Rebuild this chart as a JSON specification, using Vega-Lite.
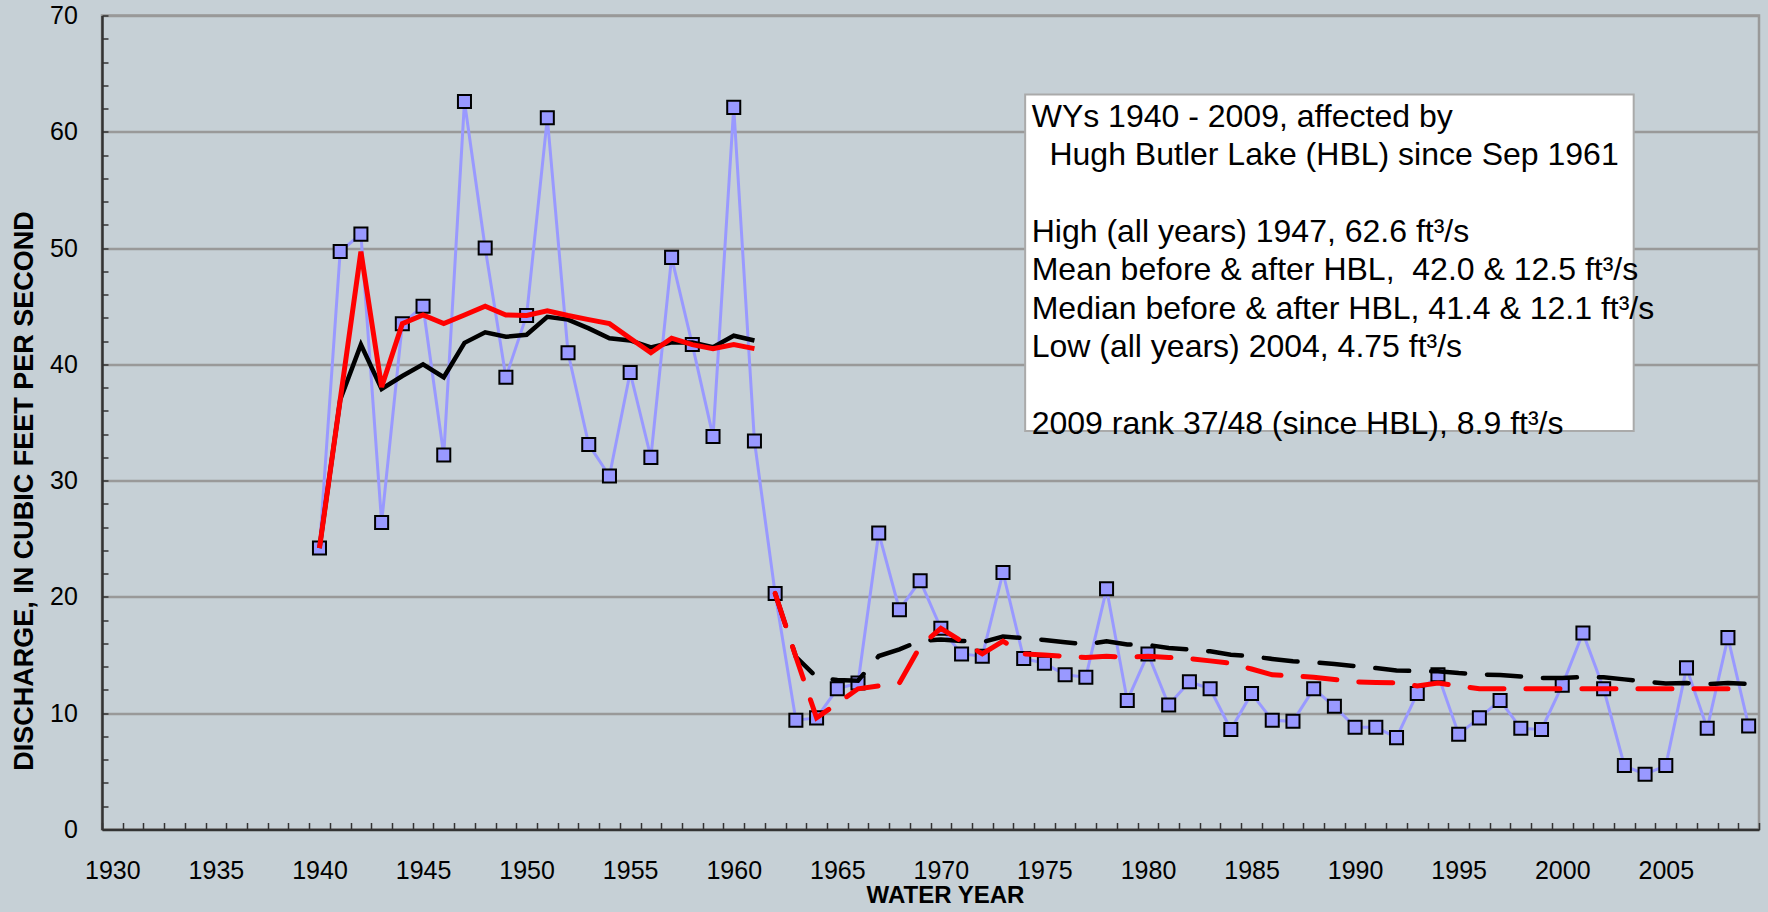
{
  "$schema": "https://vega.github.io/schema/vega-lite/v6.json",
  "width": 1657,
  "height": 814,
  "autosize": {"type": "none"},
  "padding": {"left": 102, "top": 15.5, "right": 9, "bottom": 82.5},
  "background": "#C6D0D6",
  "config": {
    "font": "Liberation Sans",
    "view": {"stroke": "#999999", "strokeWidth": 2.5, "fill": "#C6D0D6"}
  },
  "encoding": {
    "x": {
      "field": "year",
      "type": "quantitative",
      "scale": {"domain": [1929.5, 2009.5], "nice": false, "zero": false},
      "axis": {
        "title": "WATER YEAR",
        "values": [1929.5, 1930, 1930.5, 1931.5, 1932.5, 1933.5, 1934.5, 1935, 1935.5, 1936.5, 1937.5, 1938.5, 1939.5, 1940, 1940.5, 1941.5, 1942.5, 1943.5, 1944.5, 1945, 1945.5, 1946.5, 1947.5, 1948.5, 1949.5, 1950, 1950.5, 1951.5, 1952.5, 1953.5, 1954.5, 1955, 1955.5, 1956.5, 1957.5, 1958.5, 1959.5, 1960, 1960.5, 1961.5, 1962.5, 1963.5, 1964.5, 1965, 1965.5, 1966.5, 1967.5, 1968.5, 1969.5, 1970, 1970.5, 1971.5, 1972.5, 1973.5, 1974.5, 1975, 1975.5, 1976.5, 1977.5, 1978.5, 1979.5, 1980, 1980.5, 1981.5, 1982.5, 1983.5, 1984.5, 1985, 1985.5, 1986.5, 1987.5, 1988.5, 1989.5, 1990, 1990.5, 1991.5, 1992.5, 1993.5, 1994.5, 1995, 1995.5, 1996.5, 1997.5, 1998.5, 1999.5, 2000, 2000.5, 2001.5, 2002.5, 2003.5, 2004.5, 2005, 2005.5, 2006.5, 2007.5, 2008.5, 2009.5],
        "tickOpacity": {"condition": {"test": "datum.value % 1 != 0", "value": 1}, "value": 0},
        "labelExpr": "datum.value % 5 == 0 ? '' + datum.value : ''",
        "labelOverlap": false,
        "labelFlush": false,
        "labelBound": false,
        "tickSize": -7,
        "tickWidth": 1.5,
        "tickColor": "#333333",
        "domainColor": "#333333",
        "domainWidth": 2.5,
        "grid": false,
        "labelFont": "Liberation Sans",
        "labelFontSize": 25,
        "labelColor": "#000000",
        "labelPadding": 36,
        "titleFont": "Liberation Sans",
        "titleFontSize": 24,
        "titleFontWeight": "bold",
        "titleColor": "#000000",
        "titleX": 843,
        "titleY": 66,
        "titleAlign": "center",
        "titleBaseline": "middle"
      }
    },
    "y": {
      "field": "q",
      "type": "quantitative",
      "scale": {"domain": [0, 70], "nice": false, "zero": true},
      "axis": {
        "title": "DISCHARGE, IN CUBIC FEET PER SECOND",
        "values": [0, 2, 4, 6, 8, 10, 12, 14, 16, 18, 20, 22, 24, 26, 28, 30, 32, 34, 36, 38, 40, 42, 44, 46, 48, 50, 52, 54, 56, 58, 60, 62, 64, 66, 68, 70],
        "labelExpr": "datum.value % 10 == 0 ? '' + datum.value : ''",
        "labelOverlap": false,
        "labelFlush": false,
        "labelBound": false,
        "grid": true,
        "gridColor": "#999999",
        "gridWidth": 2.5,
        "gridOpacity": {"condition": {"test": "datum.value % 10 == 0 && datum.value > 0", "value": 1}, "value": 0},
        "tickSize": -6,
        "tickWidth": 1.5,
        "tickColor": "#333333",
        "domainColor": "#333333",
        "domainWidth": 2.5,
        "labelFont": "Liberation Sans",
        "labelFontSize": 25,
        "labelColor": "#000000",
        "labelPadding": 30.6,
        "titleFont": "Liberation Sans",
        "titleFontSize": 27,
        "titleFontWeight": "bold",
        "titleColor": "#000000",
        "titleAngle": -90,
        "titleX": -78,
        "titleY": 475,
        "titleAlign": "center",
        "titleBaseline": "middle"
      }
    }
  },
  "layer": [
    {"data": {"name": "flow"}, "mark": {"type": "line", "color": "#9999FF", "strokeWidth": 3}},
    {"data": {"name": "flow"}, "mark": {"type": "point", "shape": "square", "filled": true, "fill": "#9999FF", "stroke": "#000000", "strokeWidth": 2, "size": 170, "opacity": 1}},
    {
      "data": {"name": "flow"},
      "transform": [{"filter": "datum.period == 'before'"}],
      "mark": {"type": "line", "color": "#000000", "strokeWidth": 4.5},
      "encoding": {"y": {"field": "mean", "type": "quantitative"}}
    },
    {
      "data": {"name": "flow"},
      "transform": [{"filter": "datum.period == 'after'"}],
      "mark": {"type": "line", "color": "#000000", "strokeWidth": 4.5, "strokeDash": [34, 22], "strokeCap": "round"},
      "encoding": {"y": {"field": "mean", "type": "quantitative"}}
    },
    {
      "data": {"name": "flow"},
      "transform": [{"filter": "datum.period == 'before'"}],
      "mark": {"type": "line", "color": "#FF0000", "strokeWidth": 5},
      "encoding": {"y": {"field": "median", "type": "quantitative"}}
    },
    {
      "data": {"name": "flow"},
      "transform": [{"filter": "datum.period == 'after'"}],
      "mark": {"type": "line", "color": "#FF0000", "strokeWidth": 5, "strokeDash": [34, 22], "strokeCap": "round"},
      "encoding": {"y": {"field": "median", "type": "quantitative"}}
    },
    {
      "data": {"values": [{"kind": "box", "year": 1974.07, "q": 63.2, "year2": 2003.45, "q2": 34.27}]},
      "mark": {"type": "rect", "fill": "#FFFFFF", "stroke": "#AAAAAA", "strokeWidth": 2},
      "encoding": {
        "x2": {"field": "year2"},
        "y2": {"field": "q2"}
      }
    },
    {
      "data": {"values": [{"kind": "text", "year": 1974.385, "q": 60.4, "label": "WYs 1940 - 2009, affected by\n\u200b\u00a0\u00a0Hugh Butler Lake (HBL) since Sep 1961\n\u200b\nHigh (all years) 1947, 62.6 ft³/s\nMean before & after HBL, \u00a042.0 & 12.5 ft³/s\nMedian before & after HBL, 41.4 & 12.1 ft³/s\nLow (all years) 2004, 4.75 ft³/s\n\u200b\n2009 rank 37/48 (since HBL), 8.9 ft³/s"}]},
      "mark": {"type": "text", "align": "left", "baseline": "alphabetic", "font": "Liberation Sans", "fontSize": 32, "color": "#000000", "lineBreak": "\n", "lineHeight": 38.3},
      "encoding": {
        "text": {"field": "label", "type": "nominal"}
      }
    }
  ],
  "datasets": {
    "flow": [
      {"year": 1940, "q": 24.2, "mean": 24.2, "median": 24.2, "period": "before"},
      {"year": 1941, "q": 49.7, "mean": 36.95, "median": 36.95, "period": "before"},
      {"year": 1942, "q": 51.2, "mean": 41.7, "median": 49.7, "period": "before"},
      {"year": 1943, "q": 26.4, "mean": 37.88, "median": 38.05, "period": "before"},
      {"year": 1944, "q": 43.5, "mean": 39.0, "median": 43.5, "period": "before"},
      {"year": 1945, "q": 45.0, "mean": 40.0, "median": 44.25, "period": "before"},
      {"year": 1946, "q": 32.2, "mean": 38.89, "median": 43.5, "period": "before"},
      {"year": 1947, "q": 62.6, "mean": 41.85, "median": 44.25, "period": "before"},
      {"year": 1948, "q": 50.0, "mean": 42.76, "median": 45.0, "period": "before"},
      {"year": 1949, "q": 38.9, "mean": 42.37, "median": 44.25, "period": "before"},
      {"year": 1950, "q": 44.2, "mean": 42.54, "median": 44.2, "period": "before"},
      {"year": 1951, "q": 61.2, "mean": 44.09, "median": 44.6, "period": "before"},
      {"year": 1952, "q": 41.0, "mean": 43.85, "median": 44.2, "period": "before"},
      {"year": 1953, "q": 33.1, "mean": 43.09, "median": 43.85, "period": "before"},
      {"year": 1954, "q": 30.4, "mean": 42.24, "median": 43.5, "period": "before"},
      {"year": 1955, "q": 39.3, "mean": 42.06, "median": 42.25, "period": "before"},
      {"year": 1956, "q": 32.0, "mean": 41.46, "median": 41.0, "period": "before"},
      {"year": 1957, "q": 49.2, "mean": 41.89, "median": 42.25, "period": "before"},
      {"year": 1958, "q": 41.7, "mean": 41.88, "median": 41.7, "period": "before"},
      {"year": 1959, "q": 33.8, "mean": 41.48, "median": 41.35, "period": "before"},
      {"year": 1960, "q": 62.1, "mean": 42.46, "median": 41.7, "period": "before"},
      {"year": 1961, "q": 33.4, "mean": 42.05, "median": 41.35, "period": "before"},
      {"year": 1962, "q": 20.3, "mean": 20.3, "median": 20.3, "period": "after"},
      {"year": 1963, "q": 9.4, "mean": 14.85, "median": 14.85, "period": "after"},
      {"year": 1964, "q": 9.6, "mean": 13.1, "median": 9.6, "period": "after"},
      {"year": 1965, "q": 12.1, "mean": 12.85, "median": 10.85, "period": "after"},
      {"year": 1966, "q": 12.6, "mean": 12.8, "median": 12.1, "period": "after"},
      {"year": 1967, "q": 25.5, "mean": 14.92, "median": 12.35, "period": "after"},
      {"year": 1968, "q": 18.9, "mean": 15.49, "median": 12.6, "period": "after"},
      {"year": 1969, "q": 21.4, "mean": 16.23, "median": 15.75, "period": "after"},
      {"year": 1970, "q": 17.3, "mean": 16.34, "median": 17.3, "period": "after"},
      {"year": 1971, "q": 15.1, "mean": 16.22, "median": 16.2, "period": "after"},
      {"year": 1972, "q": 14.9, "mean": 16.1, "median": 15.1, "period": "after"},
      {"year": 1973, "q": 22.1, "mean": 16.6, "median": 16.2, "period": "after"},
      {"year": 1974, "q": 14.7, "mean": 16.45, "median": 15.1, "period": "after"},
      {"year": 1975, "q": 14.3, "mean": 16.3, "median": 15.0, "period": "after"},
      {"year": 1976, "q": 13.3, "mean": 16.1, "median": 14.9, "period": "after"},
      {"year": 1977, "q": 13.1, "mean": 15.91, "median": 14.8, "period": "after"},
      {"year": 1978, "q": 20.7, "mean": 16.19, "median": 14.9, "period": "after"},
      {"year": 1979, "q": 11.1, "mean": 15.91, "median": 14.8, "period": "after"},
      {"year": 1980, "q": 15.1, "mean": 15.87, "median": 14.9, "period": "after"},
      {"year": 1981, "q": 10.7, "mean": 15.61, "median": 14.8, "period": "after"},
      {"year": 1982, "q": 12.7, "mean": 15.47, "median": 14.7, "period": "after"},
      {"year": 1983, "q": 12.1, "mean": 15.32, "median": 14.5, "period": "after"},
      {"year": 1984, "q": 8.6, "mean": 15.03, "median": 14.3, "period": "after"},
      {"year": 1985, "q": 11.7, "mean": 14.89, "median": 13.8, "period": "after"},
      {"year": 1986, "q": 9.4, "mean": 14.67, "median": 13.3, "period": "after"},
      {"year": 1987, "q": 9.3, "mean": 14.46, "median": 13.2, "period": "after"},
      {"year": 1988, "q": 12.1, "mean": 14.37, "median": 13.1, "period": "after"},
      {"year": 1989, "q": 10.6, "mean": 14.24, "median": 12.9, "period": "after"},
      {"year": 1990, "q": 8.8, "mean": 14.05, "median": 12.7, "period": "after"},
      {"year": 1991, "q": 8.8, "mean": 13.88, "median": 12.65, "period": "after"},
      {"year": 1992, "q": 7.9, "mean": 13.68, "median": 12.6, "period": "after"},
      {"year": 1993, "q": 11.7, "mean": 13.62, "median": 12.35, "period": "after"},
      {"year": 1994, "q": 13.3, "mean": 13.61, "median": 12.6, "period": "after"},
      {"year": 1995, "q": 8.2, "mean": 13.45, "median": 12.35, "period": "after"},
      {"year": 1996, "q": 9.6, "mean": 13.34, "median": 12.1, "period": "after"},
      {"year": 1997, "q": 11.1, "mean": 13.28, "median": 12.1, "period": "after"},
      {"year": 1998, "q": 8.7, "mean": 13.16, "median": 12.1, "period": "after"},
      {"year": 1999, "q": 8.6, "mean": 13.04, "median": 12.1, "period": "after"},
      {"year": 2000, "q": 12.4, "mean": 13.02, "median": 12.1, "period": "after"},
      {"year": 2001, "q": 16.9, "mean": 13.12, "median": 12.1, "period": "after"},
      {"year": 2002, "q": 12.1, "mean": 13.09, "median": 12.1, "period": "after"},
      {"year": 2003, "q": 5.5, "mean": 12.91, "median": 12.1, "period": "after"},
      {"year": 2004, "q": 4.75, "mean": 12.72, "median": 12.1, "period": "after"},
      {"year": 2005, "q": 5.5, "mean": 12.56, "median": 12.1, "period": "after"},
      {"year": 2006, "q": 13.9, "mean": 12.59, "median": 12.1, "period": "after"},
      {"year": 2007, "q": 8.7, "mean": 12.5, "median": 12.1, "period": "after"},
      {"year": 2008, "q": 16.5, "mean": 12.59, "median": 12.1, "period": "after"},
      {"year": 2009, "q": 8.9, "mean": 12.51, "median": 12.1, "period": "after"}
    ]
  }
}
